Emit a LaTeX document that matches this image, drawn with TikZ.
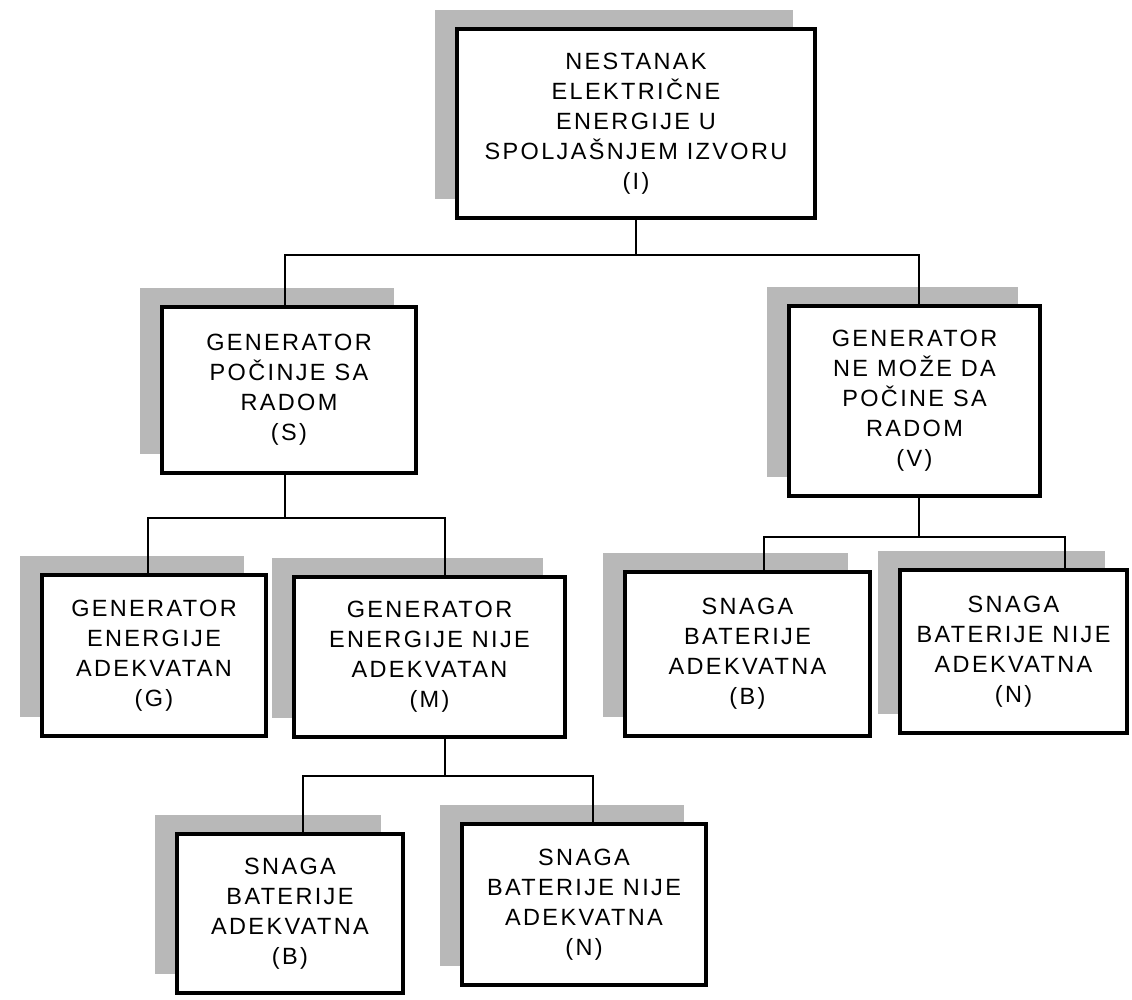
\documentclass[tikz,border=0pt]{standalone}
\usepackage{fontspec}
\setmainfont{Liberation Sans}[LetterSpace=10]
\usetikzlibrary{shadows}
\definecolor{shadowgray}{gray}{0.72}
\tikzset{
  box/.style={draw, line width=4pt, fill=white, align=center, inner sep=0pt,
    font=\fontsize{23.5}{30}\selectfont,
    drop shadow={shadow xshift=-22pt, shadow yshift=19pt, fill=shadowgray, opacity=1}},
  conn/.style={line width=2pt}
}
\begin{document}
\begin{tikzpicture}[x=1pt, y=-1pt]
\useasboundingbox (0,0) rectangle (1132,999);

% fault tree boxes
\node[box, minimum width=358pt, minimum height=189pt] (I) at (636,123.5)
  {NESTANAK\\ELEKTRIČNE\\ENERGIJE U\\SPOLJAŠNJEM IZVORU\\(I)};
\node[box, minimum width=254pt, minimum height=166pt] (S) at (289,390)
  {GENERATOR\\POČINJE SA\\RADOM\\(S)};
\node[box, minimum width=251pt, minimum height=190pt] (V) at (914.5,401)
  {GENERATOR\\NE MOŽE DA\\POČINE SA\\RADOM\\(V)};
\node[box, minimum width=224pt, minimum height=161pt] (G) at (154,655.5)
  {GENERATOR\\ENERGIJE\\ADEKVATAN\\(G)};
\node[box, minimum width=271pt, minimum height=160pt] (M) at (429.5,657)
  {GENERATOR\\ENERGIJE NIJE\\ADEKVATAN\\(M)};
\node[box, minimum width=245pt, minimum height=164pt] (BV) at (747.5,654)
  {SNAGA\\BATERIJE\\ADEKVATNA\\(B)};
\node[box, minimum width=227pt, minimum height=163pt] (NV) at (1013.5,651.5)
  {SNAGA\\BATERIJE NIJE\\ADEKVATNA\\(N)};
\node[box, minimum width=226pt, minimum height=159pt] (BM) at (290,913.5)
  {SNAGA\\BATERIJE\\ADEKVATNA\\(B)};
\node[box, minimum width=244pt, minimum height=161pt] (NM) at (584,904.5)
  {SNAGA\\BATERIJE NIJE\\ADEKVATNA\\(N)};

% heights of the horizontal branch bars
\coordinate (hI) at (0,255);
\coordinate (hS) at (0,518);
\coordinate (hV) at (0,537);
\coordinate (hM) at (0,776);

% branches
\draw[conn] (I.south) -- (I.south |- hI);
\draw[conn] ([xshift=-4pt]S.north) |- (hI -| I.south) -| ([xshift=4.5pt]V.north);

\draw[conn] ([xshift=-4pt]S.south) -- ([xshift=-4pt]S.south |- hS);
\draw[conn] ([xshift=-6pt]G.north) |- ([xshift=-4pt]S.south |- hS) -| ([xshift=15.5pt]M.north);

\draw[conn] ([xshift=4.5pt]V.south) -- ([xshift=4.5pt]V.south |- hV);
\draw[conn] ([xshift=16.5pt]BV.north) |- ([xshift=4.5pt]V.south |- hV) -| ([xshift=51.5pt]NV.north);

\draw[conn] ([xshift=15.5pt]M.south) -- ([xshift=15.5pt]M.south |- hM);
\draw[conn] ([xshift=13pt]BM.north) |- ([xshift=15.5pt]M.south |- hM) -| ([xshift=9pt]NM.north);
\end{tikzpicture}
\end{document}
